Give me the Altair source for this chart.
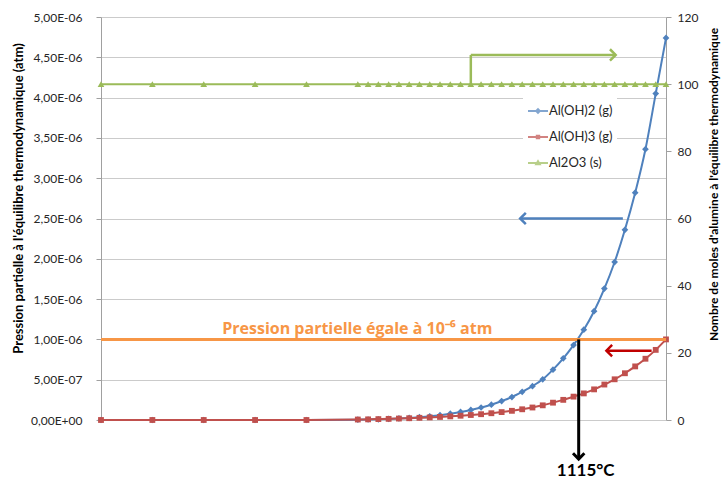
import altair as alt
import pandas as pd

# Temperatures (°C) of the equilibrium calculations
temperature = [650, 700, 750, 800, 850, 900, 910, 920, 930, 940, 950, 960, 970, 980, 990,
               1000, 1010, 1020, 1030, 1040, 1050, 1060, 1070, 1080, 1090, 1100, 1110,
               1120, 1130, 1140, 1150, 1160, 1170, 1180, 1190, 1200]

# Partial pressures, in units of 1e-6 atm
al_oh2_g = [0, 0, 0, 0, 0, 0.004, 0.006, 0.009, 0.013, 0.019, 0.026, 0.035, 0.046, 0.060,
            0.078, 0.100, 0.125, 0.155, 0.190, 0.235, 0.285, 0.350, 0.420, 0.505, 0.625,
            0.765, 0.930, 1.120, 1.350, 1.630, 1.960, 2.360, 2.820, 3.360, 4.050, 4.740]
al_oh3_g = [0, 0, 0, 0, 0, 0.006, 0.008, 0.011, 0.014, 0.018, 0.022, 0.027, 0.032, 0.038,
            0.045, 0.053, 0.062, 0.072, 0.084, 0.098, 0.114, 0.133, 0.155, 0.182, 0.215,
            0.250, 0.290, 0.330, 0.380, 0.440, 0.505, 0.580, 0.665, 0.760, 0.870, 1.000]

# Moles of alumina (right axis)
al2o3_s = [100, 100, 100, 100, 100, 100, 100, 100, 100, 100, 100, 100, 100, 100, 100,
           100, 100, 100, 100, 100, 100, 100, 100, 100, 100, 100, 100, 100, 100, 100,
           100, 100, 100, 100, 100, 100]

series_names = ["Al(OH)2 (g)", "Al(OH)3 (g)", "Al2O3 (s)"]
series_colors = ["#4F81BD", "#C0504D", "#9BBB59"]
series_shapes = ["diamond", "square", "triangle-up"]
series_sizes = [45, 34, 45]
# legend keys: short line with the series marker in the middle
legend_symbols = [
    "M-1,0H1M0,-0.18L0.18,0L0,0.18L-0.18,0Z",
    "M-1,0H1M-0.12,-0.12H0.12V0.12H-0.12Z",
    "M-1,0H1M0,-0.18L0.18,0.13L-0.18,0.13Z",
]

x_ticks = [650, 700, 750, 800, 850, 900, 950, 1000, 1050, 1100, 1150, 1200]
pressure_ticks = [0, 0.5e-6, 1.0e-6, 1.5e-6, 2.0e-6, 2.5e-6, 3.0e-6, 3.5e-6, 4.0e-6, 4.5e-6, 5.0e-6]
moles_ticks = [0, 20, 40, 60, 80, 100, 120]

MICRO = 1e-6
threshold_atm = 1e-6
threshold_label = "Pression partielle égale à 10⁻⁶ atm"
threshold_label_temp = 768
crossing_temp = 1115
crossing_label = "1115°C"

# Annotation arrows on the pressure axis: start (x, y) -> tip (x2, y2)
p_arrow_x = [1158, 1186, 1115]
p_arrow_x2 = [1058, 1142, 1115]
p_arrow_y = [2.5e-6, 0.86e-6, 1.0e-6]
p_arrow_y2 = [2.5e-6, 0.86e-6, -0.484e-6]
p_arrow_color = ["#4F81BD", "#C00000", "#000000"]
p_arrow_width = [2.5, 2.5, 3]
p_arrow_head = ["M1,-1L0,0L1,1", "M1,-1L0,0L1,1", "M-1,-1L0,0L1,-1"]

# Elbow arrow on the moles axis
m_arrow_x = [1010, 1010]
m_arrow_x2 = [1010, 1151]
m_arrow_y = [100, 108.7]
m_arrow_y2 = [108.7, 108.7]
m_arrow_head = "M-1,-1L0,0L-1,1"

FONT = "Lato"
LABEL_COLOR = "#262626"
AXIS_COLOR = "#A0A0A0"

pressure_df = pd.DataFrame({
    "T": temperature * 2,
    "series": [series_names[0]] * len(temperature) + [series_names[1]] * len(temperature),
    "p": [v * MICRO for v in al_oh2_g] + [v * MICRO for v in al_oh3_g],
})
moles_df = pd.DataFrame({"T": temperature, "n": al2o3_s, "series": series_names[2]})

x_scale = alt.Scale(domain=[650, 1200], nice=False, zero=False)
p_scale = alt.Scale(domain=[0, 5e-6], nice=False, zero=False)
m_scale = alt.Scale(domain=[0, 120], nice=False, zero=False)

x_axis = alt.Axis(
    values=x_ticks, title="Température (°C)", grid=False, labelPadding=9,
    titleY=50, titleBaseline="middle",
)
p_axis = alt.Axis(
    values=pressure_ticks, grid=True, labelPadding=14, orient="left",
    labelExpr=(
        "datum.value == 0 ? '0,00E+00' : datum.value < 9.9e-7 ? "
        "replace(format(datum.value * 1e7, '.2f'), '.', ',') + 'E-07' : "
        "replace(format(datum.value * 1e6, '.2f'), '.', ',') + 'E-06'"
    ),
    title="Pression partielle à l'équilibre thermodynamique (atm)",
    titleX=-83, titleY=181, titleAngle=270, titleBaseline="middle", titleFontSize=13,
)
m_axis = alt.Axis(
    values=moles_ticks, grid=False, orient="right", labelPadding=6,
    title="Nombre de moles d'alumine à l'équilibre thermodynamique",
    titleX=47, titleY=167, titleAngle=270, titleBaseline="middle",
)

layers = []
for i in range(2):
    sub = pressure_df[pressure_df["series"] == series_names[i]]
    base = alt.Chart(sub)
    layers.append(
        base.mark_line(interpolate="monotone", strokeWidth=2, color=series_colors[i]).encode(
            x=alt.X("T:Q", scale=x_scale, axis=x_axis if i == 0 else None),
            y=alt.Y("p:Q", scale=p_scale, axis=p_axis if i == 0 else None),
        )
    )
    layers.append(
        base.mark_point(filled=True, opacity=1, shape=series_shapes[i],
                        size=series_sizes[i], color=series_colors[i]).encode(
            x=alt.X("T:Q", scale=x_scale, axis=None),
            y=alt.Y("p:Q", scale=p_scale, axis=None),
        )
    )

# Al2O3 on the right-hand axis
layers.append(
    alt.Chart(moles_df).mark_line(strokeWidth=2, color=series_colors[2]).encode(
        x=alt.X("T:Q", scale=x_scale, axis=None),
        y=alt.Y("n:Q", scale=m_scale, axis=m_axis),
    )
)
layers.append(
    alt.Chart(moles_df).mark_point(filled=True, opacity=1, shape=series_shapes[2],
                                   size=series_sizes[2], color=series_colors[2]).encode(
        x=alt.X("T:Q", scale=x_scale, axis=None),
        y=alt.Y("n:Q", scale=m_scale, axis=None),
    )
)

# 1e-6 atm threshold line and its label
layers.append(
    alt.Chart(pd.DataFrame({"x": [650], "x2": [1200], "y": [threshold_atm]}))
    .mark_rule(color="#F79646", strokeWidth=3)
    .encode(x=alt.X("x:Q", scale=x_scale, axis=None), x2="x2:Q",
            y=alt.Y("y:Q", scale=p_scale, axis=None))
)
layers.append(
    alt.Chart(pd.DataFrame({"x": [threshold_label_temp], "y": [threshold_atm], "t": [threshold_label]}))
    .mark_text(align="left", baseline="alphabetic", dy=-5, font="Open Sans", fontSize=16,
               fontWeight="bold", color="#F79646")
    .encode(x=alt.X("x:Q", scale=x_scale, axis=None),
            y=alt.Y("y:Q", scale=p_scale, axis=None), text="t:N")
)

for i in range(len(p_arrow_x)):
    seg = pd.DataFrame({"x": [p_arrow_x[i]], "x2": [p_arrow_x2[i]],
                        "y": [p_arrow_y[i]], "y2": [p_arrow_y2[i]]})
    layers.append(
        alt.Chart(seg).mark_rule(color=p_arrow_color[i], strokeWidth=p_arrow_width[i])
        .encode(x=alt.X("x:Q", scale=x_scale, axis=None), x2="x2:Q",
                y=alt.Y("y:Q", scale=p_scale, axis=None), y2="y2:Q")
    )
    layers.append(
        alt.Chart(seg).mark_point(shape=p_arrow_head[i], size=130, filled=False, opacity=1,
                                  strokeWidth=p_arrow_width[i], color=p_arrow_color[i])
        .encode(x=alt.X("x2:Q", scale=x_scale, axis=None),
                y=alt.Y("y2:Q", scale=p_scale, axis=None))
    )

layers.append(
    alt.Chart(pd.DataFrame({"x": [crossing_temp], "y": [-0.633e-6], "t": [crossing_label]}))
    .mark_text(align="center", baseline="middle", dx=7, font=FONT, fontSize=17,
               fontWeight="bold", color="#000000")
    .encode(x=alt.X("x:Q", scale=x_scale, axis=None),
            y=alt.Y("y:Q", scale=p_scale, axis=None), text="t:N")
)

m_seg = pd.DataFrame({"x": m_arrow_x, "x2": m_arrow_x2, "y": m_arrow_y, "y2": m_arrow_y2})
layers.append(
    alt.Chart(m_seg).mark_rule(color=series_colors[2], strokeWidth=2.5)
    .encode(x=alt.X("x:Q", scale=x_scale, axis=None), x2="x2:Q",
            y=alt.Y("y:Q", scale=m_scale, axis=None), y2="y2:Q")
)
layers.append(
    alt.Chart(m_seg.tail(1)).mark_point(shape=m_arrow_head, size=130, filled=False, opacity=1,
                                        strokeWidth=2.5, color=series_colors[2])
    .encode(x=alt.X("x2:Q", scale=x_scale, axis=None),
            y=alt.Y("y2:Q", scale=m_scale, axis=None))
)
# legend carrier: no visible marks, only the colour/shape scales
layers.append(
    alt.Chart(moles_df).transform_filter("false")
    .mark_point(filled=False, strokeWidth=2)
    .encode(
        x=alt.X("T:Q", scale=x_scale, axis=None),
        y=alt.Y("n:Q", scale=m_scale, axis=None),
        color=alt.Color("series:N", scale=alt.Scale(domain=series_names, range=series_colors),
                        legend=alt.Legend(
                            title=None, orient="none", legendX=422, legendY=79,
                            fillColor="white", padding=4, symbolSize=400,
                            symbolStrokeWidth=2, rowPadding=8, labelOffset=0,
                            labelFont=FONT, labelFontSize=13, labelColor=LABEL_COLOR,
                        )),
        shape=alt.Shape("series:N", scale=alt.Scale(domain=series_names, range=legend_symbols)),
    )
)

chart = (
    alt.layer(*layers)
    .resolve_scale(y="independent")
    .properties(
        width=565, height=403,
        padding={"left": 101, "top": 17, "right": 62, "bottom": 59},
        autosize=alt.AutoSizeParams(type="none"),
        background="white",
    )
    .configure_view(stroke=None)
    .configure_axis(
        labelFont=FONT, labelFontSize=12, labelColor=LABEL_COLOR,
        titleFont=FONT, titleFontSize=12, titleFontWeight="bold", titleColor="#000000",
        domainColor=AXIS_COLOR, tickColor=AXIS_COLOR, gridColor="#CBCBCB", tickSize=5,
    )
)

chart.save("out.html", embed_options={"renderer": "svg", "actions": False})
